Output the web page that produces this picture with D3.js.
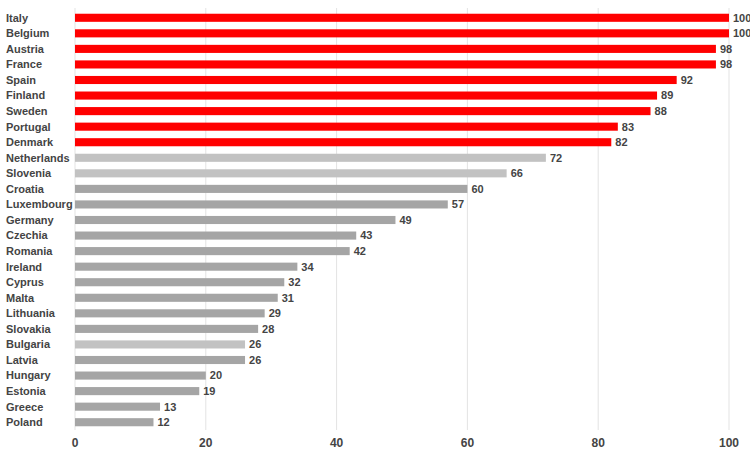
<!DOCTYPE html>
<html><head><meta charset="utf-8">
<script src="https://cdn.jsdelivr.net/npm/d3@7"></script>
<style>body{margin:0;background:#fff;font-family:"Liberation Sans",Arial,sans-serif}</style>
</head><body><div id="chart"></div>
<script>
const countries = ["Italy","Belgium","Austria","France","Spain","Finland","Sweden","Portugal","Denmark","Netherlands","Slovenia","Croatia","Luxembourg","Germany","Czechia","Romania","Ireland","Cyprus","Malta","Lithuania","Slovakia","Bulgaria","Latvia","Hungary","Estonia","Greece","Poland"];
const values = [100,100,98,98,92,89,88,83,82,72,66,60,57,49,43,42,34,32,31,29,28,26,26,20,19,13,12];
const groups = ["red","red","red","red","red","red","red","red","red","light","light","dark","dark","dark","dark","dark","dark","dark","dark","dark","dark","light","dark","dark","dark","dark","dark"];
const ticks = [0,20,40,60,80,100];

const width = 750, height = 458;
const colors = {red:"#ff0000", light:"#c2c2c2", dark:"#a5a5a5"};

const svg = d3.select("#chart").append("svg").attr("width", width).attr("height", height);
const x = d3.scaleLinear().domain([0,100]).range([75,729]);
const y = d3.scaleBand().domain(countries).range([10,430]).paddingInner(0.48).paddingOuter(0.24);

svg.append("g").selectAll("line").data(ticks).join("line")
  .attr("x1", d => x(d)).attr("x2", d => x(d))
  .attr("y1", 8).attr("y2", 430)
  .attr("stroke", "#e3e3e3").attr("stroke-width", 1);

svg.append("g").selectAll("rect").data(countries).join("rect")
  .attr("x", x(0)).attr("y", (d) => y(d))
  .attr("width", (d,i) => x(values[i]) - x(0))
  .attr("height", y.bandwidth())
  .attr("fill", (d,i) => colors[groups[i]]);

svg.append("g").selectAll("text").data(countries).join("text")
  .attr("x", 6).attr("y", d => y(d) + y.bandwidth()/2)
  .attr("dy", "0.35em").attr("font-size", 11).attr("font-weight", "bold")
  .attr("fill", "#444").text(d => d);

svg.append("g").selectAll("text").data(countries).join("text")
  .attr("x", (d,i) => x(values[i]) + 4).attr("y", d => y(d) + y.bandwidth()/2)
  .attr("dy", "0.35em").attr("font-size", 11).attr("font-weight", "bold")
  .attr("fill", "#444").text((d,i) => values[i]);

svg.append("g").selectAll("text").data(ticks).join("text")
  .attr("x", d => x(d)).attr("y", 447).attr("text-anchor", "middle")
  .attr("font-size", 12).attr("font-weight", "bold").attr("fill", "#444")
  .text(d => d);
</script></body></html>
